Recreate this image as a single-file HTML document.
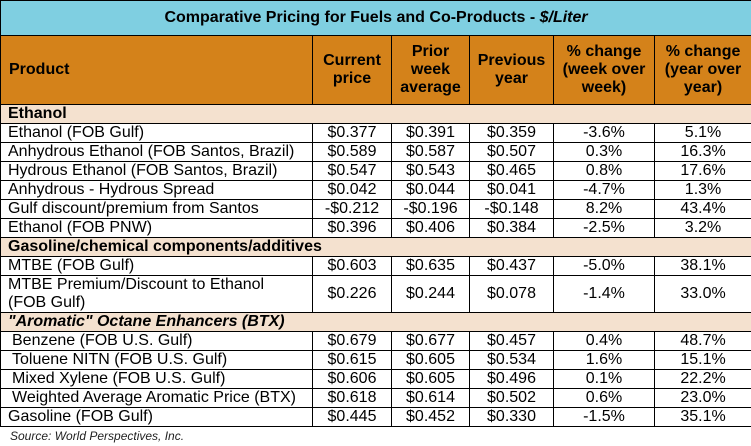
<!DOCTYPE html>
<html><head><meta charset="utf-8"><style>
body{margin:0;background:#fff;width:751px;height:446px;overflow:hidden;font-family:"Liberation Sans",Arial,sans-serif;}
table{position:absolute;left:0;top:0;border-collapse:collapse;table-layout:fixed;width:751px;font-size:16px;color:#000;}
td{border:1px solid #000;padding:0 0 0 7px;line-height:16px;white-space:nowrap;overflow:hidden;}
td.n{text-align:center;padding:0;}
tr.r td{height:18px;}
tr.t td{background:#7fcfe1;font-weight:bold;text-align:center;height:34px;padding:0;font-size:16px;}
tr.h td{background:#d4821a;font-weight:bold;height:68px;text-align:center;padding:0;line-height:18px;font-size:16px;}
tr.h td.p{text-align:left;padding-left:8px;}
tr.s td{background:#f4e1cf;font-weight:bold;height:18px;font-size:16px;}
tr.s td.i{font-style:italic;}
td.ind{padding-left:11px;}
.src{position:absolute;left:10px;top:429px;font-size:12px;font-style:italic;color:#222;}
</style></head><body>
<table>
<colgroup><col style="width:312px"><col style="width:79px"><col style="width:78px"><col style="width:84px"><col style="width:101px"><col style="width:97px"></colgroup>
<tr class="t"><td colspan="6">Comparative Pricing for Fuels and Co-Products - <i>$/Liter</i></td></tr>
<tr class="h"><td class="p">Product</td><td>Current<br>price</td><td>Prior<br>week<br>average</td><td>Previous<br>year</td><td>% change<br>(week over<br>week)</td><td>% change<br>(year over<br>year)</td></tr>
<tr class="s"><td colspan="6">Ethanol</td></tr>
<tr class="r"><td>Ethanol (FOB Gulf)</td><td class="n">$0.377</td><td class="n">$0.391</td><td class="n">$0.359</td><td class="n">-3.6%</td><td class="n">5.1%</td></tr>
<tr class="r"><td>Anhydrous Ethanol (FOB Santos, Brazil)</td><td class="n">$0.589</td><td class="n">$0.587</td><td class="n">$0.507</td><td class="n">0.3%</td><td class="n">16.3%</td></tr>
<tr class="r"><td>Hydrous Ethanol (FOB Santos, Brazil)</td><td class="n">$0.547</td><td class="n">$0.543</td><td class="n">$0.465</td><td class="n">0.8%</td><td class="n">17.6%</td></tr>
<tr class="r"><td>Anhydrous - Hydrous Spread</td><td class="n">$0.042</td><td class="n">$0.044</td><td class="n">$0.041</td><td class="n">-4.7%</td><td class="n">1.3%</td></tr>
<tr class="r"><td>Gulf discount/premium from Santos</td><td class="n">-$0.212</td><td class="n">-$0.196</td><td class="n">-$0.148</td><td class="n">8.2%</td><td class="n">43.4%</td></tr>
<tr class="r"><td>Ethanol (FOB PNW)</td><td class="n">$0.396</td><td class="n">$0.406</td><td class="n">$0.384</td><td class="n">-2.5%</td><td class="n">3.2%</td></tr>
<tr class="s"><td colspan="6">Gasoline/chemical components/additives</td></tr>
<tr class="r"><td>MTBE (FOB Gulf)</td><td class="n">$0.603</td><td class="n">$0.635</td><td class="n">$0.437</td><td class="n">-5.0%</td><td class="n">38.1%</td></tr>
<tr><td style="height:36px;line-height:18px;white-space:normal">MTBE Premium/Discount to Ethanol<br>(FOB Gulf)</td><td class="n">$0.226</td><td class="n">$0.244</td><td class="n">$0.078</td><td class="n">-1.4%</td><td class="n">33.0%</td></tr>
<tr class="s"><td colspan="6" class="i">"Aromatic" Octane Enhancers (BTX)</td></tr>
<tr class="r"><td class="ind">Benzene (FOB U.S. Gulf)</td><td class="n">$0.679</td><td class="n">$0.677</td><td class="n">$0.457</td><td class="n">0.4%</td><td class="n">48.7%</td></tr>
<tr class="r"><td class="ind">Toluene NITN (FOB U.S. Gulf)</td><td class="n">$0.615</td><td class="n">$0.605</td><td class="n">$0.534</td><td class="n">1.6%</td><td class="n">15.1%</td></tr>
<tr class="r"><td class="ind">Mixed Xylene (FOB U.S. Gulf)</td><td class="n">$0.606</td><td class="n">$0.605</td><td class="n">$0.496</td><td class="n">0.1%</td><td class="n">22.2%</td></tr>
<tr class="r"><td class="ind">Weighted Average Aromatic Price (BTX)</td><td class="n">$0.618</td><td class="n">$0.614</td><td class="n">$0.502</td><td class="n">0.6%</td><td class="n">23.0%</td></tr>
<tr class="r"><td>Gasoline (FOB Gulf)</td><td class="n">$0.445</td><td class="n">$0.452</td><td class="n">$0.330</td><td class="n">-1.5%</td><td class="n">35.1%</td></tr>
</table>
<div class="src">Source: World Perspectives, Inc.</div>
</body></html>
